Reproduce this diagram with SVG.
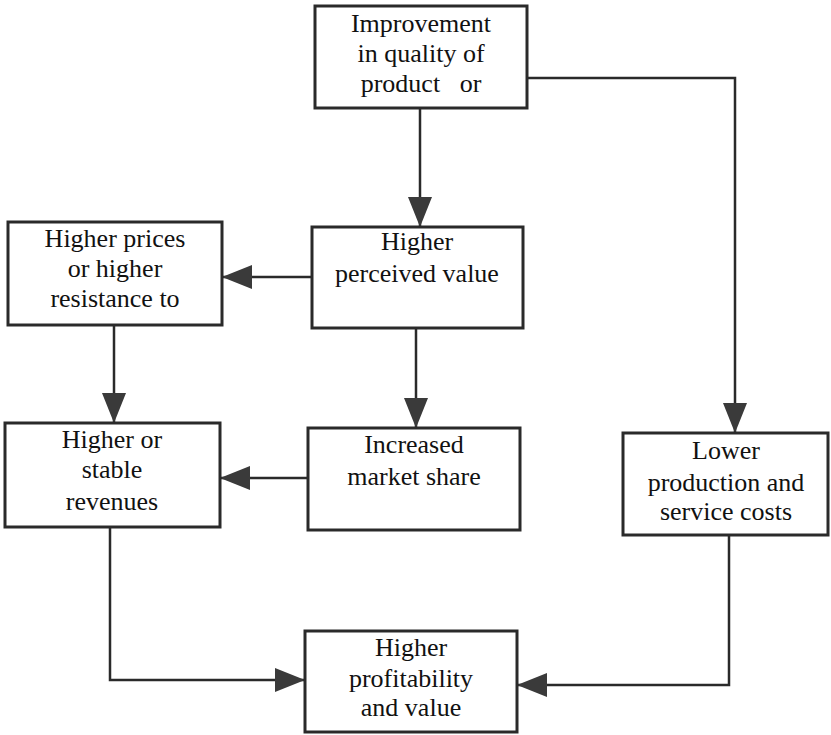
<svg xmlns="http://www.w3.org/2000/svg" width="831" height="735" viewBox="0 0 831 735">
<style>
.box{fill:#fff;stroke:#2a2a2a;stroke-width:3}
.lbl{font-size:26px;fill:#111;text-anchor:middle;white-space:pre}
.con{fill:none;stroke:#2a2a2a;stroke-width:2.5;marker-end:url(#ah)}
</style>
<defs>
<marker id="ah" markerUnits="userSpaceOnUse" markerWidth="30" markerHeight="24" refX="30" refY="12" orient="auto">
<path d="M0,0 L30,12 L0,24 z" fill="#3a3a3a"/>
</marker>
</defs>
<rect width="831" height="735" fill="#fff"/>
<g id="connectors">
<path class="con" d="M420,108 L420,227"/>
<path class="con" d="M527,78 L735,78 L735,433"/>
<path class="con" d="M312,277 L222,277"/>
<path class="con" d="M416,328 L416,428"/>
<path class="con" d="M114,325 L114,423"/>
<path class="con" d="M308,478 L220,478"/>
<path class="con" d="M110,527 L110,680 L305,680"/>
<path class="con" d="M729,535 L729,685 L517,685"/>
</g>
<g font-family="Liberation Serif, Times New Roman, DejaVu Serif, serif">
<g id="improvement">
<rect class="box" x="315" y="6" width="212" height="102"/>
<text class="lbl" x="421" y="32">Improvement</text>
<text class="lbl" x="421" y="62">in quality of</text>
<text class="lbl" x="421" y="92">product   or</text>
</g>
<g id="perceived">
<rect class="box" x="312" y="227" width="211" height="101"/>
<text class="lbl" x="417" y="250">Higher</text>
<text class="lbl" x="417" y="282">perceived value</text>
</g>
<g id="prices">
<rect class="box" x="8" y="222" width="214" height="103"/>
<text class="lbl" x="115" y="247">Higher prices</text>
<text class="lbl" x="115" y="277">or higher</text>
<text class="lbl" x="115" y="307">resistance to</text>
</g>
<g id="revenues">
<rect class="box" x="5" y="423" width="215" height="104"/>
<text class="lbl" x="112" y="448">Higher or</text>
<text class="lbl" x="112" y="478">stable</text>
<text class="lbl" x="112" y="510">revenues</text>
</g>
<g id="market">
<rect class="box" x="308" y="428" width="212" height="102"/>
<text class="lbl" x="414" y="453">Increased</text>
<text class="lbl" x="414" y="485">market share</text>
</g>
<g id="costs">
<rect class="box" x="623" y="433" width="205" height="102"/>
<text class="lbl" x="726" y="459">Lower</text>
<text class="lbl" x="726" y="491">production and</text>
<text class="lbl" x="726" y="520">service costs</text>
</g>
<g id="profitability">
<rect class="box" x="305" y="631" width="212" height="101"/>
<text class="lbl" x="411" y="656">Higher</text>
<text class="lbl" x="411" y="687">profitability</text>
<text class="lbl" x="411" y="716">and value</text>
</g>
</g>
</svg>
